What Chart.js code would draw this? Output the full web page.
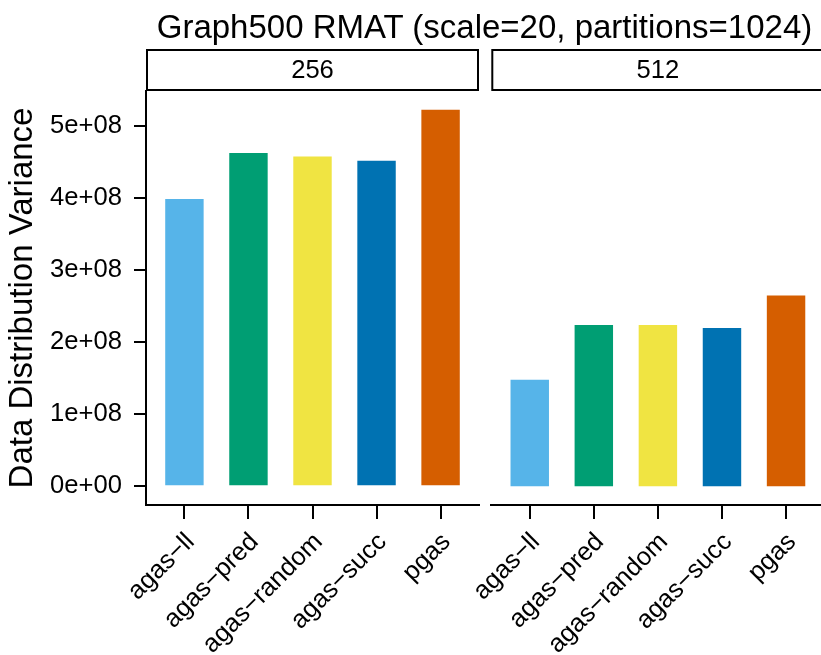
<!DOCTYPE html>
<html>
<head>
<meta charset="utf-8">
<script src="https://cdn.jsdelivr.net/npm/chart.js@4"></script>
<style>
  body { margin: 0; background: #fff; }
  #wrap { position: relative; width: 821px; height: 655px; overflow: hidden; }
  #title {
    position: absolute; left: 146px; top: 10px; width: 677px;
    text-align: center; font: 33px/33px "Liberation Sans", Arial, sans-serif; color: #000;
  }
  canvas { position: absolute; top: 0; }
  #left { left: 0; }
  #right { left: 400px; }
</style>
</head>
<body>
<div id="wrap">
  <canvas id="left" width="482" height="655"></canvas>
  <canvas id="right" width="426" height="655"></canvas>
  <div id="title">Graph500 RMAT (scale=20, partitions=1024)</div>
</div>
<script>
const categories = ['agas\u2212ll', 'agas\u2212pred', 'agas\u2212random', 'agas\u2212succ', 'pgas']
const variance256 = [3.99e8, 4.63e8, 4.58e8, 4.52e8, 5.23e8]
const variance512 = [1.48e8, 2.24e8, 2.24e8, 2.20e8, 2.65e8]
const yTicks = [0, 1e8, 2e8, 3e8, 4e8, 5e8]
const barColors = ['#56B4E9', '#009E73', '#F0E442', '#0072B2', '#D55E00']

const FONT = '"Liberation Sans", Arial, sans-serif'
const yMin = -0.26e8
const yMax = 5.49e8

// e.g. 5e+08
const sciLabel = (v) => {
  const [m, e] = Number(v).toExponential().split('e')
  const sign = e[0] === '-' ? '-' : '+'
  const digits = e.replace(/[+-]/, '').padStart(2, '0')
  return m + 'e' + sign + digits
}

// facet strip above each panel
const stripBox = {
  id: 'stripBox',
  afterDraw(chart, args, opts) {
    const { ctx, chartArea } = chart
    ctx.save()
    ctx.lineWidth = 2
    ctx.strokeStyle = '#000'
    ctx.strokeRect(chartArea.left + 1, 50, chartArea.right - chartArea.left - 2, 40)
    ctx.fillStyle = '#000'
    ctx.font = '25.6px ' + FONT
    ctx.textAlign = 'center'
    ctx.textBaseline = 'middle'
    ctx.fillText(opts.text, (chartArea.left + chartArea.right) / 2, 71)
    ctx.restore()
  }
}

const panelConfig = (values, strip, showY, yWidth, padding) => ({
  type: 'bar',
  data: {
    datasets: [{
      data: categories.map((c, i) => ({ x: i, y: values[i] })),
      backgroundColor: barColors,
      barPercentage: 0.6,
      categoryPercentage: 1
    }]
  },
  options: {
    responsive: false,
    animation: false,
    devicePixelRatio: 1,
    layout: { padding: padding },
    plugins: {
      legend: { display: false },
      tooltip: { enabled: false },
      stripBox: { text: strip }
    },
    scales: {
      x: {
        type: 'linear',
        offset: false,
        min: -0.6,
        max: categories.length - 0.4,
        grid: { offset: false, drawOnChartArea: false, tickLength: 14, color: '#000', lineWidth: 2 },
        border: { display: true, color: '#000', width: 2 },
        ticks: {
          color: '#000', font: { family: FONT, size: 25.6 },
          minRotation: 45, maxRotation: 45, autoSkip: false, padding: 8, labelOffset: 6,
          callback: (v) => categories[v]
        },
        afterBuildTicks: (scale) => { scale.ticks = categories.map((c, i) => ({ value: i })) },
        afterFit: (scale) => { scale.height = 150 }
      },
      y: {
        display: showY,
        min: yMin,
        max: yMax,
        grid: { drawOnChartArea: false, tickLength: 12, color: '#000', lineWidth: 2 },
        border: { display: true, color: '#000', width: 2 },
        ticks: {
          color: '#000', font: { family: FONT, size: 25.6 }, padding: 12,
          callback: (v) => sciLabel(v)
        },
        afterBuildTicks: (scale) => { scale.ticks = yTicks.map(v => ({ value: v })) },
        title: {
          display: true, text: 'Data Distribution Variance', color: '#000',
          font: { family: FONT, size: 33 }, padding: { top: 0, bottom: 0 }
        },
        afterFit: (scale) => { scale.width = yWidth }
      }
    }
  },
  plugins: [stripBox]
})

const leftChart = new Chart(document.getElementById('left'),
  panelConfig(variance256, '256', true, 142.5, { top: 91, left: 3.5, right: 3, bottom: 0 }))
const rightChart = new Chart(document.getElementById('right'),
  panelConfig(variance512, '512', false, 0, { top: 91, left: 91.3, right: 1.5, bottom: 0 }))
</script>
</body>
</html>
